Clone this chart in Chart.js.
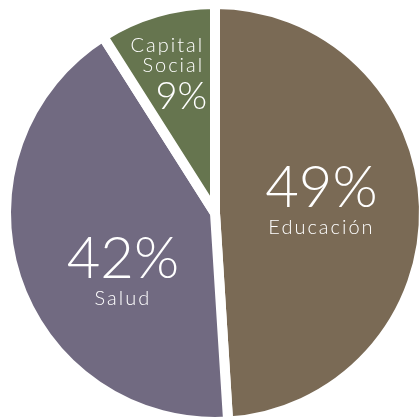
<!DOCTYPE html>
<html>
<head>
<meta charset="utf-8">
<script src="https://cdn.jsdelivr.net/npm/chart.js@4/dist/chart.umd.min.js"></script>
<style>
  html, body { margin: 0; padding: 0; background: #fff; overflow: hidden; }
  #wrap { position: absolute; left: -5px; top: -5px; width: 440px; height: 436px; }
</style>
</head>
<body>
<div id="wrap"><canvas id="myPie"></canvas></div>
<script>
// data
const categories = ["Educación", "Salud", "Capital Social"];
const shares = [49, 42, 9];
const sliceColors = ["#7a6a55", "#716a81", "#66754f"];

// where the text sits inside each slice (angle nudge in degrees, fraction of radius)
const labelNudge = [-1.4, -17.3, 11.9];
const labelFrac = [0.51, 0.54, 0.50];

const FONT = "Lato, 'DejaVu Sans', sans-serif";

const pieLabels = {
  id: "pieLabels",
  afterDatasetsDraw(chart) {
    const ctx = chart.ctx;
    const arcs = chart.getDatasetMeta(0).data;
    ctx.save();
    ctx.fillStyle = "#ffffff";
    ctx.textBaseline = "alphabetic";
    arcs.forEach((arc, i) => {
      const mid = (arc.startAngle + arc.endAngle) / 2 + (labelNudge[i] * Math.PI) / 180;
      const r = arc.outerRadius * labelFrac[i];
      const x = arc.x + r * Math.cos(mid);
      const y = arc.y + r * Math.sin(mid);
      const pct = shares[i] + "%";
      if (i < 2) {
        ctx.textAlign = "center";
        ctx.letterSpacing = "0px";
        ctx.font = "300 58px " + FONT;
        ctx.fillText(pct, x, y);
        ctx.letterSpacing = "2px";
        ctx.font = "300 20px " + FONT;
        ctx.fillText(categories[i], x, y + 27);
      } else {
        // small slice: name on two lines above the number, right aligned
        ctx.textAlign = "right";
        ctx.letterSpacing = "0px";
        ctx.font = "300 38px " + FONT;
        ctx.fillText(pct, x, y);
        const words = categories[i].split(" ");
        ctx.letterSpacing = "2px";
        ctx.font = "300 20px " + FONT;
        ctx.fillText(words[0], x - 3, y - 57);
        ctx.fillText(words[1], x - 3, y - 37);
      }
    });
    ctx.restore();
  },
};

const ctx1 = document.getElementById("myPie");

const myChart = new Chart(ctx1, {
  type: "pie",
  data: {
    labels: categories,
    datasets: [
      {
        data: shares,
        backgroundColor: sliceColors,
        borderColor: "#ffffff",
        borderWidth: 10,
      },
    ],
  },
  options: {
    responsive: true,
    maintainAspectRatio: false,
    animation: false,
    layout: { padding: 4 },
    plugins: {
      legend: { display: false },
      tooltip: { enabled: false },
    },
  },
  plugins: [pieLabels],
});
</script>
</body>
</html>
